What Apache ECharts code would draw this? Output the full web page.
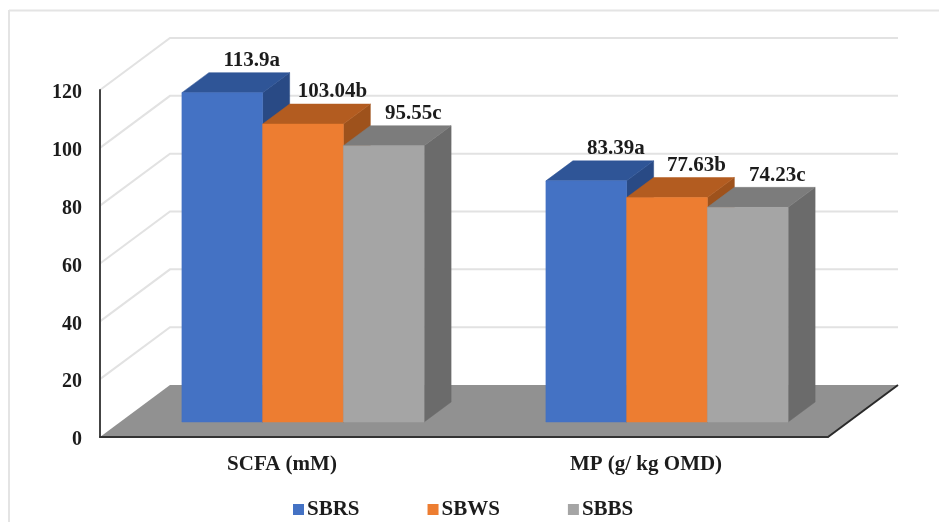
<!DOCTYPE html>
<html>
<head>
<meta charset="utf-8">
<style>html,body{margin:0;padding:0;background:#fff}#c{width:939px;height:522px}</style>
<script src="https://cdn.jsdelivr.net/npm/echarts@6/dist/echarts.min.js"></script>
</head>
<body>
<div id="c"></div>
<script>
const categories = ['SCFA (mM)', 'MP (g/ kg OMD)'];
const seriesNames = ['SBRS', 'SBWS', 'SBBS'];
const sbrs = [113.9, 83.39];
const sbws = [103.04, 77.63];
const sbbs = [95.55, 74.23];
const sbrsLetters = ['a', 'a'];
const sbwsLetters = ['b', 'b'];
const sbbsLetters = ['c', 'c'];
const sbrsText = ['113.9', '83.39'];
const sbwsText = ['103.04', '77.63'];
const sbbsText = ['95.55', '74.23'];
const yTicks = [0, 20, 40, 60, 80, 100, 120];

const FONT = '"Liberation Serif", serif';
const TXT = '#1c1c1c';
// wall depth and bar depth (pixels of the oblique projection)
const WALL = [70, -52];
const BAR = [27, -20];
const BAR_FRONT = [21, -15];
const BAR_W = 0.2218;

function barSeries(idx, values, texts, letters, front, top, side) {
  return {
    name: seriesNames[idx],
    type: 'custom',
    coordinateSystem: 'cartesian2d',
    itemStyle: { color: front },
    z: 5 + idx,
    clip: false,
    data: values.map((v, i) => [i, v]),
    encode: { x: 0, y: 1 },
    renderItem(params, api) {
      const c = api.value(0);
      const band = api.size([1, 0])[0];
      const w = band * BAR_W;
      const p0 = api.coord([c, 0]);
      const pv = api.coord([c, api.value(1)]);
      const x0 = p0[0] + BAR_FRONT[0] + (idx - 1.5) * w;
      const x1 = x0 + w;
      const yb = p0[1] + BAR_FRONT[1];
      const yt = pv[1] + BAR_FRONT[1];
      const dx = BAR[0], dy = BAR[1];
      const poly = (points, fill) => ({
        type: 'polygon', shape: { points }, style: { fill, stroke: fill, lineWidth: 0.5 }
      });
      return {
        type: 'group',
        children: [
          poly([[x1, yt], [x1 + dx, yt + dy], [x1 + dx, yb + dy], [x1, yb]], side),
          poly([[x0, yt], [x0 + dx, yt + dy], [x1 + dx, yt + dy], [x1, yt]], top),
          poly([[x0, yt], [x1, yt], [x1, yb], [x0, yb]], front),
          {
            type: 'text',
            z2: 50,
            style: {
              text: texts[c] + letters[c],
              x: (x0 + x1) / 2 + 29.5,
              y: yt - 32,
              align: 'center',
              verticalAlign: 'middle',
              font: 'bold 21px ' + FONT,
              fill: TXT
            }
          }
        ]
      };
    }
  };
}

const wallSeries = {
  type: 'custom',
  coordinateSystem: 'cartesian2d',
  silent: true,
  z: 1,
  clip: false,
  data: yTicks.filter(t => t > 0).map(t => [0, t]),
  encode: { x: 0, y: 1 },
  renderItem(params, api) {
    const band = api.size([1, 0])[0];
    const p = api.coord([0, api.value(1)]);
    const xl = p[0] - band / 2;
    const xr = p[0] - band / 2 + band * 2 + WALL[0];
    return {
      type: 'polyline',
      shape: { points: [[xl, p[1]], [xl + WALL[0], p[1] + WALL[1]], [xr, p[1] + WALL[1]]] },
      style: { fill: 'none', stroke: '#e2e2e2', lineWidth: 2 }
    };
  }
};

const floorSeries = {
  type: 'custom',
  coordinateSystem: 'cartesian2d',
  silent: true,
  z: 2,
  clip: false,
  data: [[0, 0]],
  encode: { x: 0, y: 1 },
  renderItem(params, api) {
    const band = api.size([1, 0])[0];
    const p = api.coord([0, 0]);
    const xl = p[0] - band / 2, xr = xl + band * 2, y = p[1];
    return {
      type: 'group',
      children: [
        { type: 'polygon',
          shape: { points: [[xl, y], [xr, y], [xr + WALL[0], y + WALL[1]], [xl + WALL[0], y + WALL[1]]] },
          style: { fill: '#919191' } },
        { type: 'line',
          shape: { x1: xr, y1: y, x2: xr + WALL[0], y2: y + WALL[1] },
          style: { stroke: '#2a2a2a', lineWidth: 2 } }
      ]
    };
  }
};

const chart = echarts.init(document.getElementById('c'), null, { renderer: 'canvas' });
chart.setOption({
  animation: false,
  backgroundColor: '#fff',
  graphic: [
    { type: 'line', shape: { x1: 9, y1: 10.5, x2: 939, y2: 10.5 }, style: { stroke: '#e4e4e4', lineWidth: 2 } },
    { type: 'line', shape: { x1: 9, y1: 10, x2: 9, y2: 522 }, style: { stroke: '#e4e4e4', lineWidth: 2 } }
  ],
  grid: { left: 100, top: 90, width: 728, height: 347, containLabel: false },
  xAxis: {
    type: 'category',
    data: categories,
    z: 10,
    axisTick: { show: false },
    axisLine: { lineStyle: { color: '#333', width: 2 } },
    axisLabel: { margin: 17, fontFamily: FONT, fontWeight: 'bold', fontSize: 21, color: TXT }
  },
  yAxis: {
    type: 'value',
    min: 0,
    max: 120,
    interval: 20,
    z: 10,
    splitLine: { show: false },
    axisTick: { show: false },
    axisLine: { show: true, lineStyle: { color: '#444', width: 2 } },
    axisLabel: { margin: 18, verticalAlign: 'top', padding: [-7, 0, 0, 0], fontFamily: FONT, fontWeight: 'bold', fontSize: 20, color: TXT }
  },
  legend: {
    data: seriesNames,
    left: 288,
    top: 494,
    icon: 'rect',
    itemWidth: 11,
    itemHeight: 11,
    itemGap: 68,
    textStyle: { fontFamily: FONT, fontWeight: 'bold', fontSize: 21, color: TXT, padding: [0, 0, 0, -2] }
  },
  series: [
    wallSeries,
    floorSeries,
    barSeries(0, sbrs, sbrsText, sbrsLetters, '#4472c4', '#2f5597', '#294a85'),
    barSeries(1, sbws, sbwsText, sbwsLetters, '#ed7d31', '#b35c20', '#9e521c'),
    barSeries(2, sbbs, sbbsText, sbbsLetters, '#a5a5a5', '#7c7c7c', '#6b6b6b')
  ]
});
</script>
</body>
</html>
